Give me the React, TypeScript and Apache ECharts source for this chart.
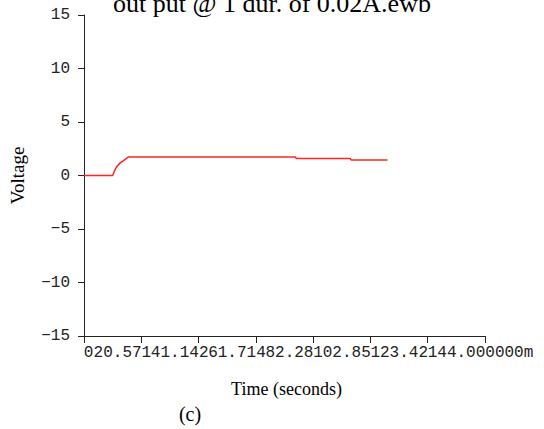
import React, { useEffect, useRef } from "react";
import * as echarts from "echarts";

const titleText = "out put @ 1 dur. of 0.02A.ewb";
const captionText = "(c)";
const xAxisName = "Time (seconds)";
const yAxisName = "Voltage";

const xMin = 0;
const xMax = 144;
const xTickCount = 7;
const yMin = -15;
const yMax = 15;
const yInterval = 5;

// tick labels as they appear (each one partly covered by the next in the original)
const xTickLabels = ["0", "20.571", "41.142", "61.714", "82.28", "102.85", "123.42", "144.000000m"];

const timeSeconds = [0, 10.3, 10.9, 11.8, 13.0, 14.2, 16.0, 75.9, 76.2, 95.6, 95.9, 109.0];
const voltage = [0, 0, 0.4, 0.85, 1.18, 1.4, 1.74, 1.74, 1.6, 1.6, 1.46, 1.46];

// style: where each tick label starts, in character widths relative to its tick
const labelStartOffsets = [0, -5, -5, -5, -5, -6, -6, -6];

const MONO = "'Liberation Mono', 'DejaVu Sans Mono', monospace";
const SERIF = "'Liberation Serif', 'DejaVu Serif', serif";
const CW = 9.6;

export default function App() {
  const ref = useRef<HTMLDivElement>(null);
  useEffect(() => {
    if (!ref.current) return;
    const chart = echarts.init(ref.current, null, { renderer: "svg" });
    const data = timeSeconds.map((t, i) => [t, voltage[i]]);
    const rich: Record<string, any> = {};
    xTickLabels.forEach((s, i) => {
      const o = labelStartOffsets[i];
      const n = s.length;
      const h = Math.max(-o, o + n);
      const pl = (o + h) * CW;
      const pr = (h - (o + n)) * CW;
      rich["r" + i] = {
        fontFamily: MONO,
        fontSize: 16,
        color: "#222",
        padding: [0, Math.max(0, pr - (i === 0 ? 0 : 0.6)), 0, Math.max(0, pl - (i === 0 ? 0.6 : 0))],
      };
    });
    chart.setOption({
      animation: false,
      backgroundColor: "#ffffff",
      title: {
        text: titleText,
        left: "center",
        top: -15,
        textStyle: { fontFamily: SERIF, fontSize: 26, fontWeight: "normal", color: "#000" },
      },
      graphic: [
        {
          type: "text",
          x: 190,
          y: 414,
          style: {
            text: captionText,
            fontFamily: SERIF,
            fontSize: 20,
            fill: "#000",
            align: "center",
            verticalAlign: "middle",
          },
        },
      ],
      grid: { left: 83, right: 59, top: 15, bottom: 93, containLabel: false },
      xAxis: [
        {
          type: "value",
          min: xMin,
          max: xMax,
          interval: (xMax - xMin) / xTickCount,
          name: xAxisName,
          nameLocation: "middle",
          nameGap: 44,
          nameTextStyle: { fontFamily: SERIF, fontSize: 18, color: "#000", padding: [0, 0, 0, 4] },
          axisLine: { onZero: false, lineStyle: { color: "#222", width: 1 } },
          axisTick: { show: true, length: 7, inside: false, lineStyle: { color: "#222" } },
          splitLine: { show: false },
          axisLabel: { show: false },
        },
        {
          type: "category",
          position: "bottom",
          data: xTickLabels,
          boundaryGap: false,
          axisLine: { show: false },
          axisTick: { show: false },
          splitLine: { show: false },
          axisLabel: {
            interval: 0,
            margin: 9,
            formatter: (v: string, i: number) => `{r${i}|${v}}`,
            rich,
          },
        },
      ],
      yAxis: {
        type: "value",
        min: yMin,
        max: yMax,
        interval: yInterval,
        name: yAxisName,
        nameLocation: "middle",
        nameGap: 57,
        nameRotate: 90,
        nameTextStyle: { fontFamily: SERIF, fontSize: 19, color: "#000" },
        axisLine: { show: true, onZero: false, lineStyle: { color: "#222", width: 1 } },
        axisTick: { show: true, length: 6, inside: false, lineStyle: { color: "#222" } },
        splitLine: { show: false },
        axisLabel: {
          margin: 14,
          fontFamily: MONO,
          fontSize: 16,
          color: "#222",
          formatter: (v: number) => (v < 0 ? "\u2212" + Math.abs(v) : String(v)),
        },
      },
      series: [
        {
          type: "line",
          xAxisIndex: 0,
          data,
          showSymbol: false,
          symbol: "none",
          lineStyle: { color: "#ff2424", width: 1.5 },
        },
      ],
    });
    return () => chart.dispose();
  }, []);
  return (
    <div
      ref={ref}
      style={{ position: "fixed", left: 0, top: 0, width: 544, height: 429, background: "#fff" }}
    />
  );
}
